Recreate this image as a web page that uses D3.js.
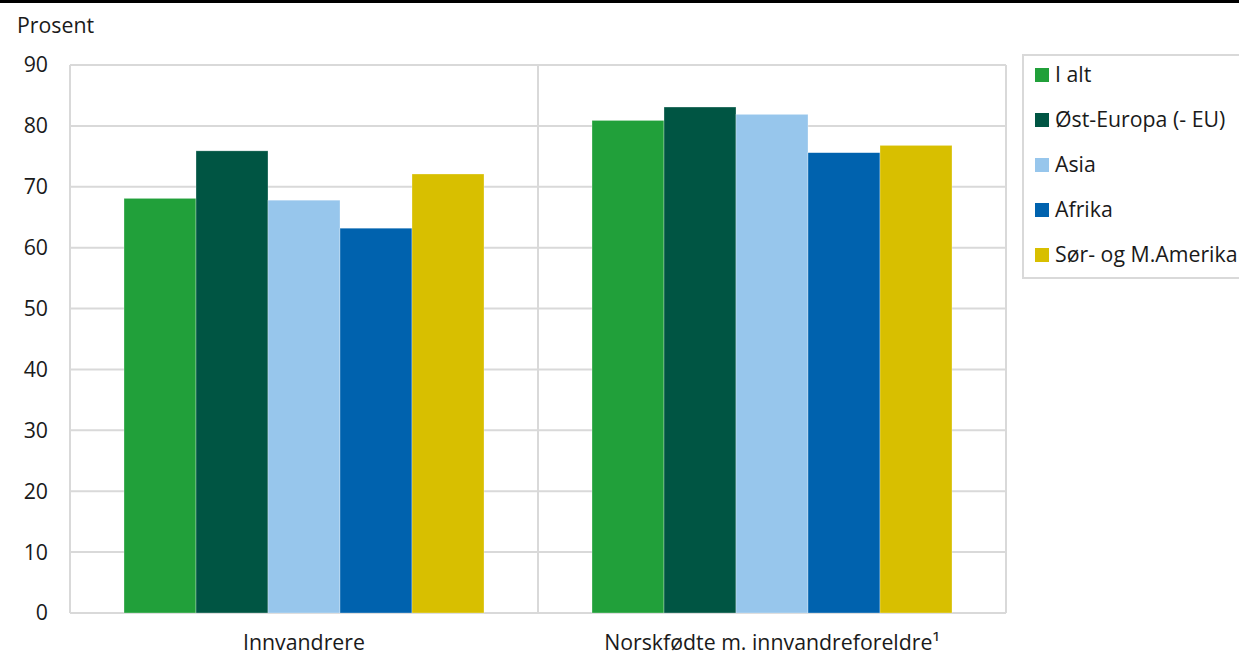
<!DOCTYPE html>
<html><head><meta charset="utf-8">
<script src="https://cdn.jsdelivr.net/npm/d3@7"></script>
<style>body{margin:0;background:#fff}svg{display:block;font-family:"Open Sans",sans-serif}</style>
</head><body>
<svg id="c" width="1239" height="655"></svg>
<script>
const categories = ["Innvandrere", "Norskfødte m. innvandreforeldre¹"];
const seriesNames = ["I alt", "Øst-Europa (- EU)", "Asia", "Afrika", "Sør- og M.Amerika"];
const colors = ["#21a03a", "#005543", "#97c6ec", "#0062ae", "#d8bf00"];
const values = {
  "I alt": [68.1, 80.9],
  "Øst-Europa (- EU)": [75.9, 83.1],
  "Asia": [67.8, 81.9],
  "Afrika": [63.2, 75.6],
  "Sør- og M.Amerika": [72.1, 76.8]
};
const yTicks = [0,10,20,30,40,50,60,70,80,90];

const svg = d3.select("#c");
const L=70, R=1006, T=65, B=613;
const FS=21.3;
const x = d3.scaleBand().domain(categories).range([L,R]);
const xi = d3.scaleBand().domain(seriesNames).range([0, x.bandwidth()]).paddingOuter(0.75).paddingInner(0);
const y = d3.scaleLinear().domain([0,90]).range([B,T]);
const grid="#d9d9d9";

svg.append("rect").attr("x",0).attr("y",0).attr("width",1239).attr("height",3).attr("fill","#000");

svg.append("g").selectAll("line").data(yTicks).join("line")
  .attr("x1",L).attr("x2",R).attr("y1",d=>y(d)).attr("y2",d=>y(d))
  .attr("stroke",grid).attr("stroke-width",2);
const vx=[L, x(categories[1]), R];
svg.append("g").selectAll("line").data(vx).join("line")
  .attr("x1",d=>d).attr("x2",d=>d).attr("y1",T).attr("y2",B)
  .attr("stroke",grid).attr("stroke-width",2);

const g = svg.append("g");
seriesNames.forEach((s,si)=>{
  g.selectAll(null).data(values[s]).join("rect")
    .attr("x",(d,i)=>x(categories[i])+xi(s))
    .attr("width",xi.bandwidth())
    .attr("y",d=>y(d)).attr("height",d=>B-y(d))
    .attr("fill",colors[si])
    .attr("stroke","rgba(255,255,255,0.5)").attr("stroke-width",0.6);
});

svg.append("g").selectAll("text").data(yTicks).join("text")
  .attr("x",48).attr("y",d=>y(d)).attr("dy","0.35em").attr("text-anchor","end")
  .attr("font-size",FS).attr("fill","#1a1a1a").text(d=>d);
svg.append("text").attr("x",17).attr("y",33).attr("font-size",FS).attr("fill","#1a1a1a").text("Prosent");

svg.append("g").selectAll("text").data(categories).join("text")
  .attr("x",d=>x(d)+x.bandwidth()/2).attr("y",650).attr("text-anchor","middle")
  .attr("font-size",FS).attr("fill","#1a1a1a").text(d=>d);

svg.append("rect").attr("x",1023).attr("y",55).attr("width",230).attr("height",223)
  .attr("fill","#fff").attr("stroke",grid).attr("stroke-width",2);
const lg = svg.append("g").selectAll("g").data(seriesNames).join("g")
  .attr("transform",(d,i)=>`translate(1035,${75+i*45})`);
lg.append("rect").attr("x",0).attr("y",-7).attr("width",14).attr("height",14).attr("fill",(d,i)=>colors[i]);
lg.append("text").attr("x",20).attr("y",0).attr("dy","0.35em").attr("font-size",FS).attr("fill","#1a1a1a").text(d=>d);
</script>
</body></html>
